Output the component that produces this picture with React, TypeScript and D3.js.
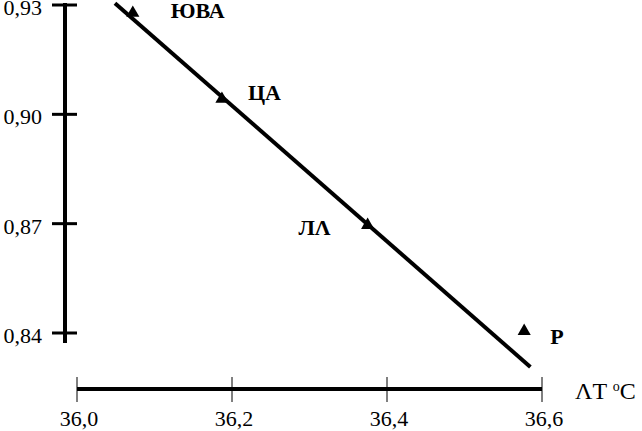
import React, { useEffect, useRef } from 'react';
import * as d3 from 'd3';

// regions and their values (temperature, coefficient)
const regions = ['ЮВА', 'ЦА', 'ЛΛ', 'Р'];
const temps = [36.072, 36.187, 36.375, 36.577];
const coefs = [0.9278, 0.9042, 0.8696, 0.8405];

// trend line ends
const trendTemps = [36.049, 36.585];
const trendCoefs = [0.9305, 0.8307];

const xTicks = [36.0, 36.2, 36.4, 36.6];
const yTicks = [0.84, 0.87, 0.9, 0.93];

const W = 642;
const H = 431;

const App = () => {
  const svgRef = useRef<SVGSVGElement | null>(null);

  useEffect(() => {
    const svg = d3.select(svgRef.current);
    svg.selectAll('*').remove();

    const font = '"Liberation Serif", "Times New Roman", serif';

    const x = d3.scaleLinear().domain([36.0, 36.6]).range([77, 542]);
    const y = d3.scaleLinear().domain([0.84, 0.93]).range([333, 5]);

    // y axis
    svg.append('line')
      .attr('x1', 65).attr('x2', 65)
      .attr('y1', y(0.93) - 2).attr('y2', y(0.84) + 10)
      .attr('stroke', '#000').attr('stroke-width', 4);

    svg.selectAll('.ytick')
      .data(yTicks)
      .enter()
      .append('line')
      .attr('class', 'ytick')
      .attr('x1', 52).attr('x2', 77)
      .attr('y1', d => y(d)).attr('y2', d => y(d))
      .attr('stroke', '#000').attr('stroke-width', 3);

    svg.selectAll('.ylabel')
      .data(yTicks)
      .enter()
      .append('text')
      .attr('class', 'ylabel')
      .attr('x', 42)
      .attr('y', d => y(d) + 10)
      .attr('text-anchor', 'end')
      .style('font-family', font)
      .style('font-size', '22px')
      .text(d => d3.format('.2f')(d).replace('.', ','));

    // x axis
    const axisY = 389;
    svg.append('line')
      .attr('x1', x(36.0)).attr('x2', x(36.6))
      .attr('y1', axisY).attr('y2', axisY)
      .attr('stroke', '#000').attr('stroke-width', 4);

    svg.selectAll('.xtick')
      .data(xTicks)
      .enter()
      .append('line')
      .attr('class', 'xtick')
      .attr('x1', d => x(d)).attr('x2', d => x(d))
      .attr('y1', axisY - 12).attr('y2', axisY + 13)
      .attr('stroke', '#000').attr('stroke-width', 1);

    svg.selectAll('.xlabel')
      .data(xTicks)
      .enter()
      .append('text')
      .attr('class', 'xlabel')
      .attr('x', d => x(d) + 2)
      .attr('y', 426)
      .attr('text-anchor', 'middle')
      .style('font-family', font)
      .style('font-size', '22px')
      .text(d => d3.format('.1f')(d).replace('.', ','));

    const title = svg.append('text')
      .attr('x', 575)
      .attr('y', 399)
      .style('font-family', font)
      .style('font-size', '24px');
    title.append('tspan').text('ΛT ');
    title.append('tspan').attr('dy', -8).style('font-size', '14px').text('o');
    title.append('tspan').attr('dy', 8).text('C');

    // trend line
    const line = d3.line<number>()
      .x(i => x(trendTemps[i]))
      .y(i => y(trendCoefs[i]));

    svg.append('path')
      .datum([0, 1])
      .attr('d', line)
      .attr('fill', 'none')
      .attr('stroke', '#000')
      .attr('stroke-width', 4);

    // markers
    const tri = d3.symbol().type(d3.symbolTriangle).size(75);
    svg.selectAll('.mark')
      .data(regions)
      .enter()
      .append('path')
      .attr('class', 'mark')
      .attr('d', tri)
      .attr('transform', (d, i) => `translate(${x(temps[i])},${y(coefs[i])})`)
      .attr('fill', '#000');

    // label offsets from each marker
    const offsets: Record<string, [number, number, string]> = {
      'ЮВА': [38, 5, 'start'],
      'ЦА': [26, 1, 'start'],
      'ЛΛ': [-37, 10, 'end'],
      'Р': [26, 13, 'start'],
    };

    svg.selectAll('.name')
      .data(regions)
      .enter()
      .append('text')
      .attr('class', 'name')
      .attr('x', (d, i) => x(temps[i]) + offsets[d][0])
      .attr('y', (d, i) => y(coefs[i]) + offsets[d][1])
      .attr('text-anchor', d => offsets[d][2])
      .style('font-family', font)
      .style('font-size', '22px')
      .style('font-weight', 'bold')
      .text(d => d);
  }, []);

  return (
    <svg
      ref={svgRef}
      width={W}
      height={H}
      style={{ position: 'absolute', left: 0, top: 0, background: '#fff' }}
    />
  );
};

export default App;
